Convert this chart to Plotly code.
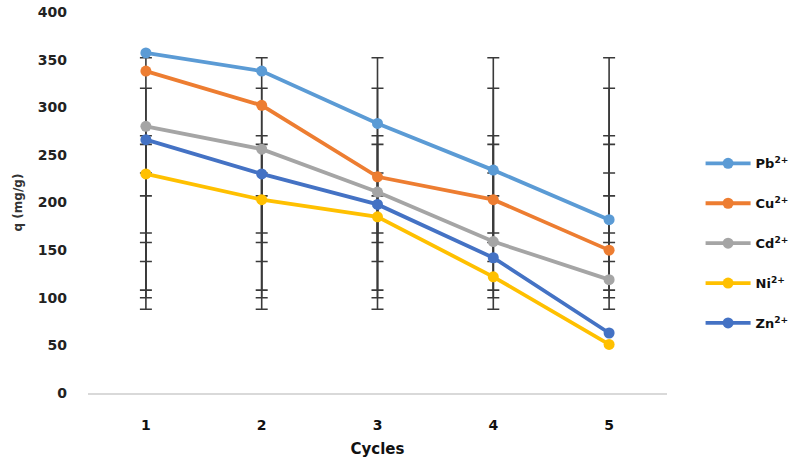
import plotly.graph_objects as go

cycles = [1, 2, 3, 4, 5]
series_names = ["Pb<sup>2+</sup>", "Cu<sup>2+</sup>", "Cd<sup>2+</sup>", "Ni<sup>2+</sup>", "Zn<sup>2+</sup>"]
pb = [357, 338, 283, 234, 182]
cu = [338, 302, 227, 203, 150]
cd = [280, 256, 211, 159, 119]
ni = [230, 203, 185, 122, 51]
zn = [266, 230, 198, 142, 63]
colors = ["#5B9BD5", "#ED7D31", "#A5A5A5", "#FFC000", "#4472C4"]

# error bar ranges (low, high), identical at every cycle
err_low = [88, 100, 108, 138, 158, 168]
err_high = [352, 320, 270, 261, 231, 207]

fig = go.Figure()

for lo, hi in zip(err_low, err_high):
    mid = (lo + hi) / 2
    half = (hi - lo) / 2
    fig.add_trace(go.Scatter(
        x=cycles, y=[mid] * len(cycles), mode="markers",
        marker=dict(size=1, color="rgba(0,0,0,0)"),
        error_y=dict(type="data", array=[half] * len(cycles), visible=True,
                     color="#3a3a3a", thickness=1.6, width=6),
        showlegend=False, hoverinfo="skip"))

for i, (name, vals) in enumerate(zip(series_names, [pb, cu, cd, ni, zn])):
    fig.add_trace(go.Scatter(
        x=cycles, y=vals, mode="lines+markers", name=name,
        line=dict(color=colors[i], width=3.8),
        marker=dict(color=colors[i], size=11),
        legendgroup=f"g{i}"))

fig.update_layout(
    width=800, height=473,
    margin=dict(l=88, r=133, t=12, b=80, autoexpand=False),
    paper_bgcolor="white", plot_bgcolor="white",
    font=dict(family="DejaVu Sans", color="#222222"),
    showlegend=True,
    legend=dict(x=1.058, xanchor="left", y=0.642, yanchor="top",
                font=dict(size=13, color="#111111", family="DejaVu Sans", weight="bold"),
                tracegroupgap=20, itemwidth=45, bgcolor="rgba(0,0,0,0)"),
    xaxis=dict(range=[0.5, 5.5], tickvals=cycles,
               showgrid=False, zeroline=False, showline=True, linecolor="#d9d9d9", linewidth=1.5,
               ticks="", ticklabelstandoff=18,
               tickfont=dict(size=14, color="#111111", family="DejaVu Sans", weight="bold"),
               title=dict(text="Cycles", font=dict(size=15, color="#111111", weight="bold"), standoff=12)),
    yaxis=dict(range=[0, 400], dtick=50, showgrid=False, zeroline=False, showline=False,
               ticks="", ticklabelstandoff=20,
               tickfont=dict(size=14, color="#222222", family="DejaVu Sans", weight="bold"),
               title=dict(text="q (mg/g)", font=dict(size=12, color="#333333", weight="bold"), standoff=12)),
)

fig.write_html("out.html")
